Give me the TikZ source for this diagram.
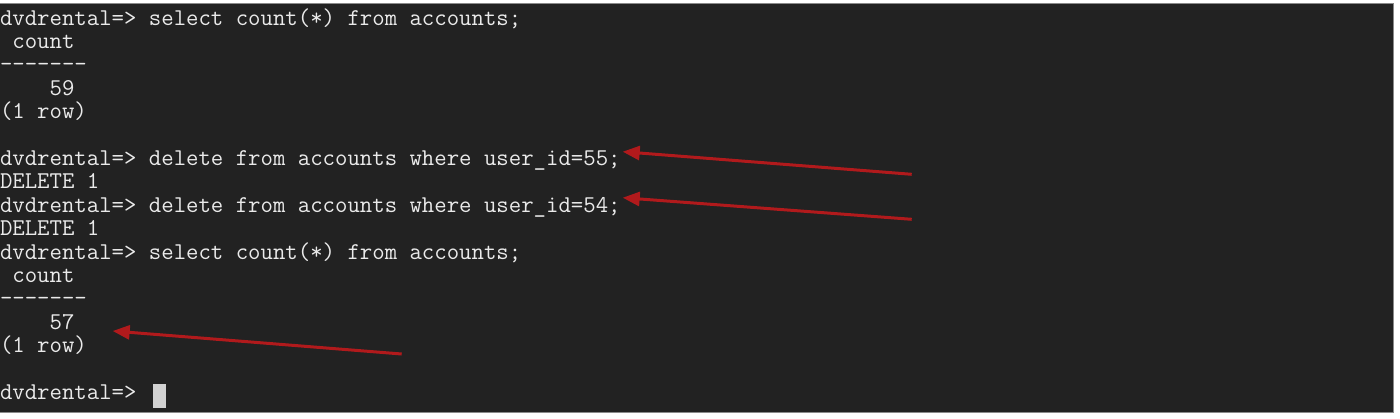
\documentclass[tikz,border=0pt]{standalone}
\usepackage{fontspec}
\usetikzlibrary{arrows.meta}
\definecolor{termbg}{HTML}{222222}
\definecolor{termfg}{HTML}{EAEAEA}
\definecolor{termborder}{HTML}{8A8A8A}
\definecolor{arrowred}{HTML}{B11A1C}
\definecolor{cursorgray}{HTML}{D2D2D2}
\tikzset{
  line/.style={anchor=base west, inner sep=0pt, outer sep=0pt, text=termfg,
    font=\ttfamily\fontsize{24.1}{23.4}\selectfont},
  pointer/.style={draw=arrowred, line width=3pt,
    -{Triangle[length=17pt,width=14pt]}, arrowred}
}
\begin{document}
\begin{tikzpicture}[x=1pt,y=-1pt]
\useasboundingbox (0,0) rectangle (1400,418);
\fill[white] (0,0) rectangle (1400,418);
\path[fill=termbg, draw=termborder, line width=0.8pt] (-1,3.5) rectangle (1393.5,412.5);
% terminal lines
\node[line] (l1)  at (0,25)     {dvdrental=> select count(*) from accounts;};
\node[line] (l2)  at (12.4,48.4) {count};
\node[line] (l3)  at (0,71.8)   {-------};
\node[line] (l4)  at (49.6,95.2) {59};
\node[line] (l5)  at (0,118.6)  {(1 row)};
\node[line] (l7)  at (0,165.4)  {dvdrental=> delete from accounts where user\_id=55;};
\node[line] (l8)  at (0,188.8)  {DELETE 1};
\node[line] (l9)  at (0,212.2)  {dvdrental=> delete from accounts where user\_id=54;};
\node[line] (l10) at (0,235.6)  {DELETE 1};
\node[line] (l11) at (0,259)    {dvdrental=> select count(*) from accounts;};
\node[line] (l12) at (12.4,282.4) {count};
\node[line] (l13) at (0,305.8)  {-------};
\node[line] (l14) at (49.6,329.2) {57};
\node[line] (l15) at (0,352.6)  {(1 row)};
\node[line] (l17) at (0,399.4)  {dvdrental=>};
% cursor
\fill[cursorgray] (153,383.5) rectangle (166,407.5);
% arrows
\coordinate (t1) at (911.7,174.3);
\coordinate (h1) at (622.7,151.7);
\coordinate (t2) at (911.7,219.3);
\coordinate (h2) at (622.7,197.7);
\coordinate (t3) at (401.7,354);
\coordinate (h3) at (112.7,331);
\draw[pointer] (t1) -- (h1);
\draw[pointer] (t2) -- (h2);
\draw[pointer] (t3) -- (h3);
\end{tikzpicture}
\end{document}
